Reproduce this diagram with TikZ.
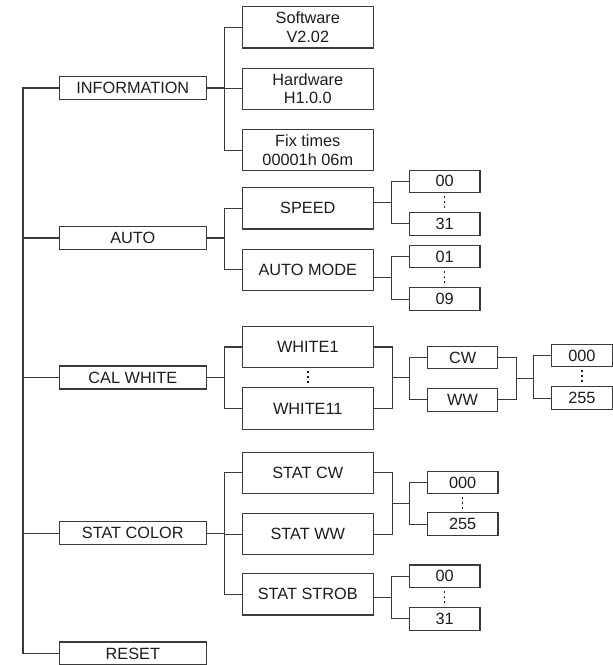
\documentclass[tikz,border=0pt]{standalone}
\usepackage{fontspec}
\setmainfont{Liberation Sans}
\usetikzlibrary{positioning,calc}
\definecolor{menuline}{RGB}{58,58,58}
\definecolor{menutext}{RGB}{28,28,28}

\begin{document}
\begin{tikzpicture}[x=1pt,y=-1pt,node distance=19pt,
  menubox/.style={draw=menuline,line width=1.1pt,inner sep=0pt,align=center,
                  text=menutext,font=\fontsize{16.3}{18.3}\selectfont},
  lvlone/.style={menubox,minimum width=147pt,minimum height=23pt},
  lvltwo/.style={menubox,minimum width=131.5pt,minimum height=41.3pt},
  valbox/.style={menubox,minimum width=70.5pt,minimum height=22.5pt},
  link/.style={draw=menuline,line width=1.1pt},
  vdotline/.style={draw=menutext,line width=1.5pt,dash pattern=on 1.5pt off 3.5pt,
                   shorten <=3pt,shorten >=3pt}]
  \useasboundingbox (0,0) rectangle (613,665);

  % main menu
  \node[lvlone] (info)  at (132.8,88)    {INFORMATION};
  \node[lvlone] (auto)  at (132.8,238)   {AUTO};
  \node[lvlone] (calw)  at (132.8,377.5) {CAL WHITE};
  \node[lvlone] (statc) at (132.8,533.3) {STAT COLOR};
  \node[lvlone] (reset) at (132.8,653.5) {RESET};

  % sub menus
  \node[lvltwo] (soft) at (307.8,27.3) {Software\\V2.02};
  \node[lvltwo,below=of soft] (hard) {Hardware\\H1.0.0};
  \node[lvltwo,below=of hard] (fix)  {Fix times\\00001h 06m};
  \node[lvltwo] (spd) at (307.8,208.3) {SPEED};
  \node[lvltwo,below=of spd] (amode) {AUTO MODE};
  \node[lvltwo] (w1) at (307.8,347) {WHITE1};
  \node[lvltwo,below=of w1] (w11) {WHITE11};
  \node[lvltwo] (scw) at (307.8,472.8) {STAT CW};
  \node[lvltwo,below=of scw] (sww) {STAT WW};
  \node[lvltwo,below=17.7pt of sww] (sstr) {STAT STROB};

  % values
  \node[valbox] (sp00) at (444.7,181.3) {00};
  \node[valbox,below=of sp00] (sp31) {31};
  \node[valbox] (am01) at (444.7,256.5) {01};
  \node[valbox,below=of am01] (am09) {09};
  \node[valbox] (cw) at (462.6,357.5) {CW};
  \node[valbox,below=18.7pt of cw] (ww) {WW};
  \node[valbox,minimum width=60.5pt] (c000) at (581.9,355.5) {000};
  \node[valbox,minimum width=60.5pt,below=of c000] (c255) {255};
  \node[valbox] (sc000) at (462.7,482.5) {000};
  \node[valbox,below=18pt of sc000] (sc255) {255};
  \node[valbox] (st00) at (444.7,576.2) {00};
  \node[valbox,below=of st00] (st31) {31};

  % trunk
  \coordinate (trunk) at (23,0);
  \draw[link] (info.west) -| (trunk |- reset.west) -- (reset.west);
  \foreach \n in {auto,calw,statc} \draw[link] (\n.west) -- (\n.west -| trunk);

  % main menu -> sub menus
  \foreach \c in {soft,hard,fix} \draw[link] (info.east) -- ++(17.7,0) |- (\c.west);
  \foreach \c in {spd,amode} \draw[link] (auto.east) -- ++(17.7,0) |- (\c.west);
  \foreach \c in {w1,w11} \draw[link] (calw.east) -- ++(17.7,0) |- (\c.west);
  \foreach \c in {scw,sww,sstr} \draw[link] (statc.east) -- ++(17.7,0) |- (\c.west);

  % one parent -> value range
  \foreach \p/\a/\b in {spd/sp00/sp31,amode/am01/am09,sstr/st00/st31}{
    \coordinate (j) at ($(\a.west)!.5!(\b.west)+(-17.6,0)$);
    \draw[link] (\a.west) -| (j) |- (\b.west);
    \draw[link] (\p.east |- j) -- (j);
    \draw[vdotline] (\a.south) -- (\b.north);
  }

  % two parents -> two children
  \foreach \p/\q/\a/\b in {w1/w11/cw/ww,cw/ww/c000/c255,scw/sww/sc000/sc255}{
    \coordinate (jl) at ($(\p.east)!.5!(\q.east)+(18,0)$);
    \coordinate (jr) at ($(\a.west)!.5!(\b.west)+(-17.6,0)$);
    \draw[link] (\p.east) -| (jl) |- (\q.east);
    \draw[link] (jl) -- (jl -| jr);
    \draw[link] (\a.west) -| (jr) |- (\b.west);
  }
  \foreach \a/\b in {w1/w11,c000/c255,sc000/sc255} \draw[vdotline] (\a.south) -- (\b.north);
\end{tikzpicture}
\end{document}
